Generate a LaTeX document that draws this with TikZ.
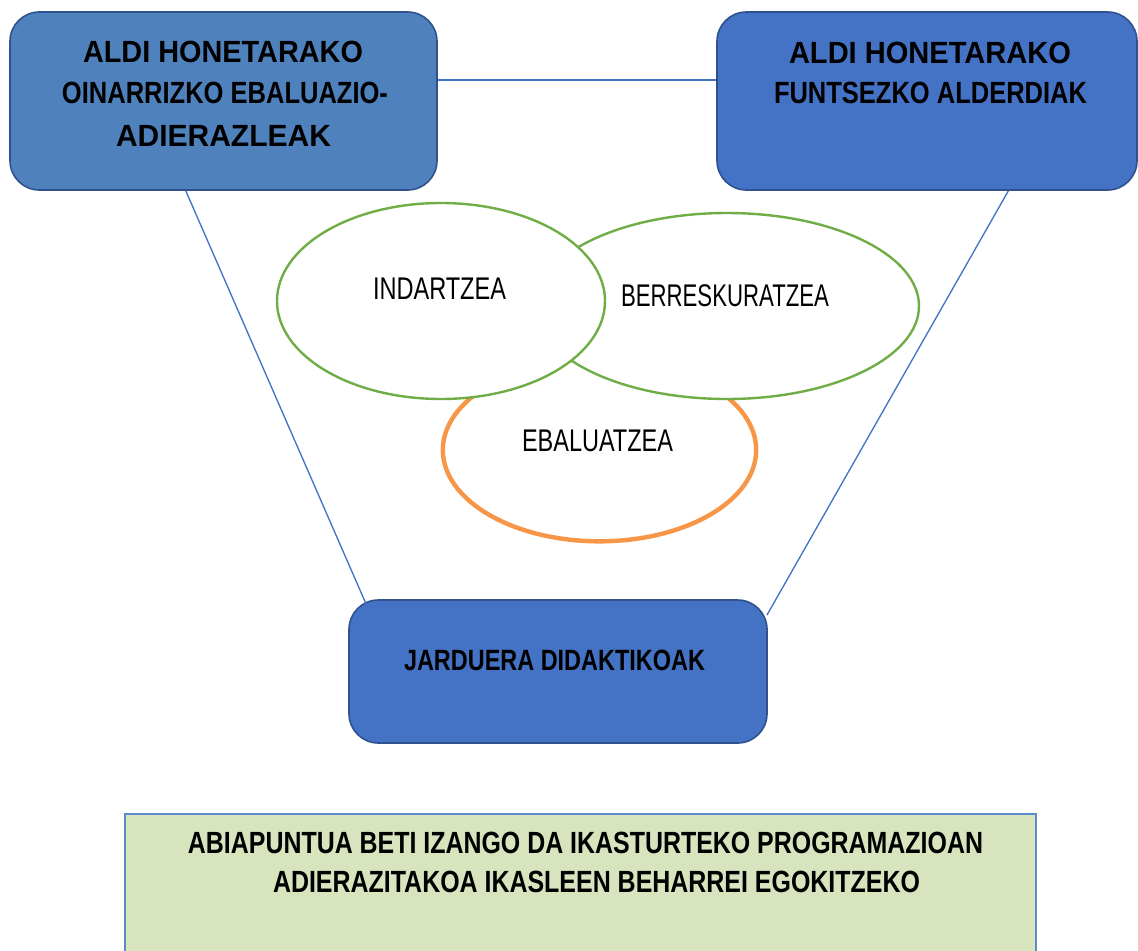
\documentclass[tikz,border=0pt]{standalone}
\usepackage{fontspec}
\setmainfont{Liberation Sans}
\usetikzlibrary{shapes.geometric,calc}
\newcommand\fitto[2]{\resizebox{#1}{\height}{#2}}
\definecolor{boxA}{HTML}{4F81BD}
\definecolor{boxB}{HTML}{4472C4}
\definecolor{boxline}{HTML}{2F528F}
\definecolor{conn}{HTML}{4472C4}
\definecolor{grn}{HTML}{70AD47}
\definecolor{org}{HTML}{F79646}
\definecolor{pale}{HTML}{D7E4BD}
\definecolor{paleline}{HTML}{5B8BC8}
\begin{document}
\begin{tikzpicture}[x=0.75pt,y=-0.75pt,
  rbox/.style={draw=boxline, line width=1.2pt, rounded corners=22pt, inner sep=0pt},
  oval/.style={ellipse, fill=white, inner sep=0pt},
  conline/.style={draw=conn, line width=1pt},
  txtb/.style={inner sep=0pt, font=\bfseries\fontsize{23}{27}\selectfont},
  txtj/.style={inner sep=0pt, font=\bfseries\fontsize{22}{26}\selectfont},
  txtr/.style={inner sep=0pt, font=\fontsize{23.5}{28}\selectfont}]
\clip (0,0) rectangle (1138,950);
\fill[white] (0,0) rectangle (1138,950);

% boxes
\node[rbox, fill=boxA, minimum width=320.25pt, minimum height=133.5pt] (tl) at (223.5,101) {};
\node[rbox, fill=boxB, minimum width=315pt, minimum height=133.5pt] (tr) at (927,101) {};
\node[rbox, fill=boxB, minimum width=313.5pt, minimum height=107.25pt] (jd) at (558,671.5) {};
\node[draw=paleline, line width=1pt, fill=pale, inner sep=0pt, minimum width=683.25pt, minimum height=150pt] (gb) at (580.5,914) {};

% ellipses
\node[oval, draw=org, line width=3.3pt, minimum width=235pt, minimum height=137pt] (eb) at (599.5,450) {};
\node[oval, draw=grn, line width=1.8pt, minimum width=288pt, minimum height=139.5pt] (be) at (727,306) {};
\node[oval, draw=grn, line width=1.8pt, minimum width=246pt, minimum height=147pt] (in) at (441,301) {};

% connectors
\coordinate (hy) at (0,80);
\draw[conline] (tl.east |- hy) -- (tr.west |- hy);
\coordinate (tlfoot) at ($(tl.south west)!0.412!(tl.south east)$);
\coordinate (jdtopl) at (370,613);
\draw[conline] (tlfoot) -- (jdtopl);
\coordinate (trfoot) at ($(tr.south west)!0.693!(tr.south east)$);
\coordinate (jdtopr) at (767,615);
\draw[conline] (trfoot) -- (jdtopr);

% texts
\node[txtb] (tl1) at (223,52) {\fitto{210pt}{ALDI HONETARAKO}};
\node[txtb] (tl2) at (225,92.5) {\fitto{244.5pt}{OINARRIZKO EBALUAZIO-}};
\node[txtb] (tl3) at (223.5,136) {\fitto{161.25pt}{ADIERAZLEAK}};
\node[txtb] (tr1) at (930,53) {\fitto{211.5pt}{ALDI HONETARAKO}};
\node[txtb] (tr2) at (930.5,93) {\fitto{234.75pt}{FUNTSEZKO ALDERDIAK}};
\node[txtj] (jdt) at (554.5,660) {\fitto{225.75pt}{JARDUERA DIDAKTIKOAK}};
\node[txtr] (int) at (439.5,289) {\fitto{99.75pt}{INDARTZEA}};
\node[txtr] (bet) at (725,296) {\fitto{156pt}{BERRESKURATZEA}};
\node[txtr] (ebt) at (597.5,441) {\fitto{113.25pt}{EBALUATZEA}};
\node[txtb] (gb1) at (585.5,843) {\fitto{596.25pt}{ABIAPUNTUA BETI IZANGO DA IKASTURTEKO PROGRAMAZIOAN}};
\node[txtb] (gb2) at (596.5,882) {\fitto{485.25pt}{ADIERAZITAKOA IKASLEEN BEHARREI EGOKITZEKO}};
\end{tikzpicture}
\end{document}
